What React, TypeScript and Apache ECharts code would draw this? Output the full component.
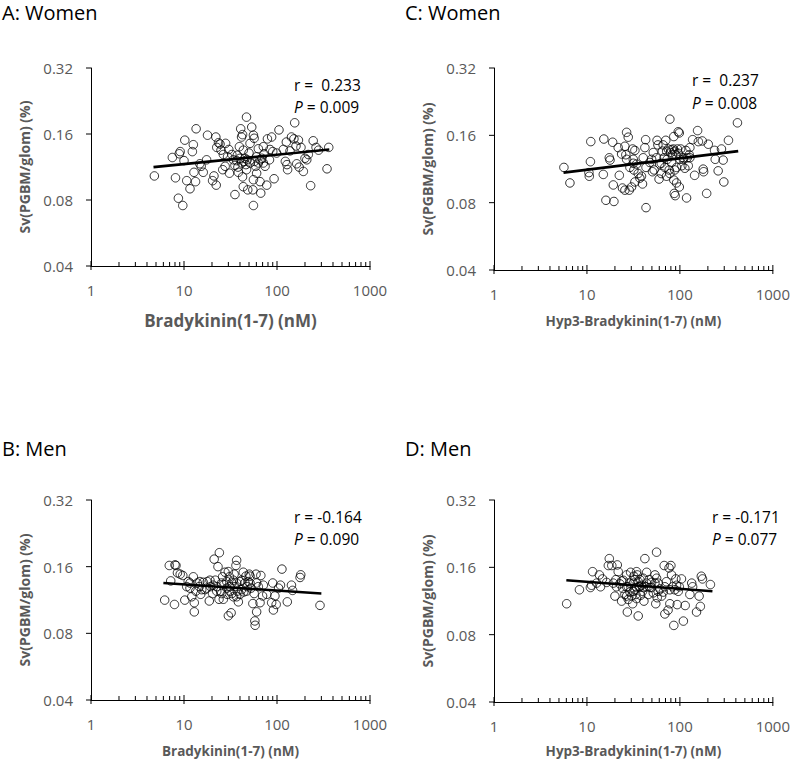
import React, { useEffect, useRef } from "react";
import * as echarts from "echarts";

// ---- Axis tick values ----
const X_MAJOR_TICKS = [1, 10, 100, 1000];
const X_MINOR_TICKS = [2, 3, 4, 5, 6, 7, 8, 9, 20, 30, 40, 50, 60, 70, 80, 90, 200, 300, 400, 500, 600, 700, 800, 900];
const Y_TICKS = [0.04, 0.08, 0.16, 0.32];
const Y_TICK_LABELS = ["0.04", "0.08", "0.16", "0.32"];
const X_MIN = 1;
const X_MAX = 1000;
const Y_MIN = 0.04;
const Y_MAX = 0.32;

// ---- Panel A: Women, Bradykinin(1-7) (nM) vs Sv(PGBM/glom) ----
const womenBk: number[][] = [
  [4.8, 0.103], [7.5, 0.125], [8.1, 0.101], [8.7, 0.0815], [9.7, 0.0755], [9.1, 0.133], [8.9, 0.13], [10, 0.121], [10.2, 0.15], [10.7, 0.098],
  [11.6, 0.09], [12.3, 0.133], [12.6, 0.143], [12.8, 0.107], [13.3, 0.097], [13.5, 0.169], [14.8, 0.117], [15.3, 0.114], [16.1, 0.107], [17.5, 0.122],
  [17.9, 0.158], [20.3, 0.098], [21, 0.103], [22, 0.155], [22.2, 0.0935], [22.5, 0.139], [23.5, 0.146], [24.4, 0.144], [25, 0.135], [26.1, 0.11],
  [27.7, 0.114], [28, 0.145], [29.4, 0.126], [30.8, 0.106], [30.3, 0.136], [35.3, 0.0847], [36.8, 0.121], [37.4, 0.128], [38, 0.113], [39.4, 0.14],
  [38.4, 0.107], [40.7, 0.169], [41.6, 0.155], [42.6, 0.159], [42.6, 0.102], [43.4, 0.092], [44, 0.12], [46.3, 0.116], [47, 0.191], [48.5, 0.089],
  [50, 0.131], [51.3, 0.145], [53.5, 0.172], [55, 0.089], [55.8, 0.0755], [55.8, 0.099], [55.8, 0.158], [56.8, 0.153], [57.3, 0.12], [59, 0.114],
  [60.4, 0.126], [63, 0.137], [65.7, 0.097], [66.9, 0.086], [68.7, 0.124], [71.3, 0.118], [72.5, 0.13], [74.4, 0.114], [77.6, 0.0935], [78.9, 0.152],
  [84, 0.136], [87.6, 0.155], [90, 0.133], [93, 0.1], [105, 0.167], [117, 0.136], [123, 0.12], [126, 0.147], [128, 0.116], [130, 0.11],
  [138, 0.134], [143, 0.155], [152, 0.152], [155, 0.18], [160, 0.141], [163, 0.117], [170, 0.15], [173, 0.113], [181, 0.139], [192, 0.108],
  [200, 0.124], [217, 0.129], [230, 0.093], [245, 0.149], [263, 0.139], [280, 0.135], [345, 0.111], [360, 0.139], [34, 0.122], [40, 0.124],
  [41.6, 0.118], [45.2, 0.124], [47.8, 0.122], [51.3, 0.118], [35.3, 0.115], [43.4, 0.135], [32.7, 0.129], [60.4, 0.106], [65.7, 0.122], [26.5, 0.129],
  [71.3, 0.14], [209, 0.122], [99, 0.131], [47, 0.11], [63, 0.118], [83, 0.122],
];
const womenBkFit: number[][] = [[4.7, 0.113], [365, 0.136]];

// ---- Panel B: Men, Bradykinin(1-7) (nM) ----
const menBk: number[][] = [
  [6.2, 0.113], [6.95, 0.162], [7.2, 0.138], [8, 0.163], [8.2, 0.162], [7.9, 0.108], [8.5, 0.15], [9.1, 0.148], [9.7, 0.146], [10.2, 0.113],
  [10.7, 0.13], [11.1, 0.137], [11.6, 0.128], [12.1, 0.117], [12.6, 0.144], [12.9, 0.11], [12.9, 0.1], [13.4, 0.124], [13.9, 0.135], [14.6, 0.13],
  [15.1, 0.12], [16.1, 0.136], [16.8, 0.126], [17.8, 0.137], [18.7, 0.112], [19.3, 0.13], [20.3, 0.121], [21.1, 0.173], [21.7, 0.139], [22.5, 0.13],
  [23.2, 0.16], [23.8, 0.114], [24, 0.185], [24.8, 0.124], [26, 0.144], [26.5, 0.114], [26.9, 0.133], [27.6, 0.151], [28.8, 0.128], [29.2, 0.12],
  [30, 0.096], [30.8, 0.144], [31.2, 0.124], [32.1, 0.099], [32.7, 0.135], [34, 0.117], [34.6, 0.148], [35.3, 0.13], [36.2, 0.162], [36.8, 0.171],
  [37.4, 0.124], [38.4, 0.111], [40, 0.137], [41.6, 0.126], [43.4, 0.151], [44, 0.123], [46.3, 0.145], [47.8, 0.13], [49, 0.137], [50.3, 0.148],
  [51.3, 0.145], [52.7, 0.128], [55, 0.109], [56.8, 0.121], [57.8, 0.091], [58.2, 0.087], [59.5, 0.148], [60.4, 0.1], [63, 0.13], [65.7, 0.11],
  [67, 0.146], [70, 0.118], [71.3, 0.132], [77.6, 0.12], [87.6, 0.11], [90, 0.135], [91.5, 0.102], [95, 0.118], [98, 0.108], [104, 0.128],
  [109, 0.132], [113, 0.156], [129, 0.111], [143, 0.132], [147, 0.125], [177, 0.143], [180, 0.147], [290, 0.107], [17.5, 0.128], [20.6, 0.132],
  [25.4, 0.135], [28.8, 0.137], [31.2, 0.13], [36.8, 0.135], [41.6, 0.139], [45.2, 0.135], [51.3, 0.135], [25.4, 0.121], [32.7, 0.121], [40, 0.12],
  [11.6, 0.135], [14.8, 0.137], [19, 0.139], [22.5, 0.124], [34, 0.139], [47, 0.124], [60.4, 0.135], [15.5, 0.126], [30, 0.152], [36.8, 0.117],
];
const menBkFit: number[][] = [[6, 0.135], [300, 0.121]];

// ---- Panel C: Women, Hyp3-Bradykinin(1-7) (nM) ----
const womenHyp: number[][] = [
  [5.65, 0.115], [6.56, 0.098], [10.6, 0.105], [10.9, 0.122], [11, 0.15], [10.5, 0.109], [15, 0.107], [15.2, 0.154], [16, 0.082], [17.4, 0.127],
  [17.7, 0.124], [18.9, 0.149], [19.2, 0.096], [19.5, 0.081], [21.7, 0.141], [22.3, 0.106], [23.6, 0.132], [24.1, 0.093], [25.6, 0.143], [25.6, 0.091],
  [26.2, 0.131], [26.7, 0.165], [27.8, 0.157], [28.5, 0.091], [29, 0.115], [30.2, 0.094], [31, 0.139], [31.5, 0.12], [32, 0.112], [32.8, 0.137],
  [32.8, 0.099], [34.2, 0.119], [35.6, 0.108], [37.1, 0.103], [38.6, 0.105], [39.6, 0.097], [42, 0.141], [42.8, 0.153], [43.2, 0.115], [43.2, 0.076],
  [47.5, 0.121], [50.7, 0.11], [51.7, 0.134], [52.8, 0.112], [55.9, 0.127], [56.8, 0.152], [58, 0.145], [59.7, 0.102], [60.6, 0.119], [63, 0.108],
  [64.7, 0.136], [67.6, 0.127], [68.8, 0.115], [70.5, 0.152], [71.8, 0.105], [73, 0.125], [75, 0.139], [76.7, 0.112], [78, 0.189], [79.5, 0.134],
  [81.3, 0.121], [83, 0.131], [85, 0.139], [86, 0.158], [86, 0.101], [87, 0.088], [88, 0.112], [89, 0.086], [90.5, 0.131], [92, 0.098],
  [94, 0.139], [96, 0.166], [98.5, 0.164], [98.5, 0.094], [100, 0.125], [102, 0.139], [105, 0.117], [109, 0.127], [113, 0.114], [116, 0.137],
  [118, 0.084], [120, 0.127], [123, 0.117], [126, 0.131], [128, 0.141], [137, 0.153], [144, 0.106], [155, 0.168], [158, 0.15], [174, 0.151],
  [178, 0.113], [180, 0.11], [194, 0.088], [202, 0.146], [236, 0.137], [240, 0.125], [258, 0.111], [280, 0.139], [292, 0.124], [297, 0.099],
  [333, 0.152], [416, 0.182], [72, 0.136], [81, 0.138], [88, 0.136], [96, 0.133], [109, 0.125], [128, 0.127], [63, 0.12], [49.6, 0.125],
  [31.5, 0.125], [66, 0.145], [92, 0.115], [78, 0.108], [40.3, 0.127], [26.7, 0.125],
];
const womenHypFit: number[][] = [[5.6, 0.109], [424, 0.136]];

// ---- Panel D: Men, Hyp3-Bradykinin(1-7) (nM) ----
const menHyp: number[][] = [
  [6.05, 0.11], [8.3, 0.127], [10.9, 0.13], [11.2, 0.133], [11.5, 0.153], [12.7, 0.136], [13.6, 0.148], [14, 0.131], [14.7, 0.142], [16.3, 0.137],
  [17.4, 0.175], [17, 0.163], [18.5, 0.163], [19.2, 0.136], [20, 0.119], [20.5, 0.141], [21.2, 0.164], [21.7, 0.153], [22.6, 0.135], [23.6, 0.113],
  [24.2, 0.129], [24.6, 0.14], [25.6, 0.121], [26.7, 0.148], [27.2, 0.101], [27.8, 0.131], [29, 0.124], [29.5, 0.152], [30.2, 0.119], [31, 0.11],
  [31.5, 0.136], [32, 0.146], [32.8, 0.127], [33.6, 0.121], [34.2, 0.116], [34.8, 0.148], [35.6, 0.097], [36.4, 0.131], [37.1, 0.141], [37.8, 0.12],
  [38.6, 0.133], [39.6, 0.125], [40.3, 0.143], [41, 0.113], [42, 0.175], [43.2, 0.131], [43.9, 0.152], [45.7, 0.121], [46.8, 0.141], [47.6, 0.13],
  [49.6, 0.137], [51.7, 0.123], [53.9, 0.148], [55, 0.11], [56.1, 0.187], [57, 0.117], [58.4, 0.136], [61, 0.128], [63.6, 0.119], [66.2, 0.124],
  [67.8, 0.163], [68.9, 0.099], [71.6, 0.138], [74.6, 0.103], [76.4, 0.159], [78, 0.11], [80, 0.163], [81.3, 0.148], [83.5, 0.131], [86, 0.088],
  [88.3, 0.127], [90.5, 0.142], [93.6, 0.109], [96, 0.125], [98.5, 0.131], [104, 0.142], [109, 0.092], [114, 0.108], [128, 0.121], [134, 0.136],
  [137, 0.131], [151, 0.101], [161, 0.119], [166, 0.107], [170, 0.146], [175, 0.142], [213, 0.134], [26.7, 0.131], [29, 0.136], [32.8, 0.141],
  [35.6, 0.138], [37.1, 0.131], [40.3, 0.13], [43.9, 0.136], [49.6, 0.13], [53.9, 0.136], [31.5, 0.125], [34.2, 0.13], [26.7, 0.119], [27.8, 0.115],
  [68.9, 0.131], [78, 0.127], [92, 0.133], [23.6, 0.139], [20.8, 0.131], [56.1, 0.143], [58.4, 0.125], [34.2, 0.153],
];
const menHypFit: number[][] = [[6, 0.14], [224, 0.125]];

// ---- Texts ----
const Y_NAME = "Sv(PGBM/glom) (%)";
const panelsInfo = [
  { title: "A: Women", xName: "Bradykinin(1-7) (nM)", r: "r =  0.233", p: "0.009", data: womenBk, fit: womenBkFit },
  { title: "C: Women", xName: "Hyp3-Bradykinin(1-7) (nM)", r: "r =  0.237", p: "0.008", data: womenHyp, fit: womenHypFit },
  { title: "B: Men", xName: "Bradykinin(1-7) (nM)", r: "r = -0.164", p: "0.090", data: menBk, fit: menBkFit },
  { title: "D: Men", xName: "Hyp3-Bradykinin(1-7) (nM)", r: "r = -0.171", p: "0.077", data: menHyp, fit: menHypFit },
];

// ---- Layout (pixels) ----
const layout = [
  { grid: { left: 91, top: 68, width: 279, height: 198 }, titleX: 2, titleY: 12, xNameSize: 17, xNameGap: 46, annX: 294, rY: 85, pY: 107 },
  { grid: { left: 494, top: 68, width: 279, height: 202 }, titleX: 405, titleY: 12, xNameSize: 13.5, xNameGap: 44, annX: 692, rY: 80, pY: 103 },
  { grid: { left: 91, top: 500, width: 279, height: 200 }, titleX: 2, titleY: 448, xNameSize: 13.5, xNameGap: 44, annX: 294, rY: 517, pY: 539 },
  { grid: { left: 494, top: 500, width: 279, height: 202 }, titleX: 405, titleY: 448, xNameSize: 13.5, xNameGap: 42, annX: 712, rY: 517, pY: 539 },
];

const FONT = "'Open Sans', 'Noto Sans', sans-serif";
const GRAY = "#595959";

function buildOption() {
  const grid: any[] = [];
  const xAxis: any[] = [];
  const yAxis: any[] = [];
  const series: any[] = [];
  const graphic: any[] = [];

  panelsInfo.forEach((pi, i) => {
    const L = layout[i];
    grid.push({ ...L.grid });
    xAxis.push({
      type: "log",
      logBase: 10,
      min: X_MIN,
      max: X_MAX,
      gridIndex: i,
      axisLine: { show: true, onZero: false, lineStyle: { color: "#000", width: 1 } },
      axisTick: { show: false },
      splitLine: { show: false },
      axisLabel: {
        color: GRAY,
        fontSize: 15,
        fontFamily: FONT,
        margin: 16,
        formatter: (v: number) => String(Math.round(v)),
      },
      name: pi.xName,
      nameLocation: "middle",
      nameGap: L.xNameGap,
      nameTextStyle: { color: GRAY, fontWeight: "bold", fontSize: L.xNameSize, fontFamily: FONT },
    });
    yAxis.push({
      type: "log",
      logBase: 2,
      min: Y_MIN,
      max: Y_MAX,
      gridIndex: i,
      axisLine: { show: true, onZero: false, lineStyle: { color: "#000", width: 1 } },
      axisTick: { show: false },
      axisLabel: { show: false },
      splitLine: { show: false },
      name: Y_NAME,
      nameLocation: "middle",
      nameRotate: 90,
      nameGap: 60,
      nameTextStyle: { color: GRAY, fontWeight: "bold", fontSize: 14, fontFamily: FONT },
    });

    // x minor ticks (inside)
    series.push({
      type: "custom",
      xAxisIndex: i,
      yAxisIndex: i,
      silent: true,
      data: X_MINOR_TICKS.map((v) => [v, Y_MIN]),
      renderItem: (_p: any, api: any) => {
        const pt = api.coord([api.value(0), api.value(1)]);
        return {
          type: "line",
          shape: { x1: pt[0], y1: pt[1], x2: pt[0], y2: pt[1] - 4 },
          style: { stroke: "#000", lineWidth: 1 },
        };
      },
    });
    // x major ticks (cross)
    series.push({
      type: "custom",
      xAxisIndex: i,
      yAxisIndex: i,
      silent: true,
      data: X_MAJOR_TICKS.map((v) => [v, Y_MIN]),
      renderItem: (_p: any, api: any) => {
        const pt = api.coord([api.value(0), api.value(1)]);
        return {
          type: "line",
          shape: { x1: pt[0], y1: pt[1] + 4, x2: pt[0], y2: pt[1] - 5 },
          style: { stroke: "#000", lineWidth: 1 },
        };
      },
    });
    // y ticks and labels
    series.push({
      type: "custom",
      xAxisIndex: i,
      yAxisIndex: i,
      silent: true,
      data: Y_TICKS.map((v, k) => [X_MIN, v, k]),
      renderItem: (_p: any, api: any) => {
        const pt = api.coord([api.value(0), api.value(1)]);
        const k = api.value(2);
        return {
          type: "group",
          children: [
            {
              type: "line",
              shape: { x1: pt[0] - 5, y1: pt[1], x2: pt[0], y2: pt[1] },
              style: { stroke: "#000", lineWidth: 1 },
            },
            {
              type: "text",
              x: pt[0] - 18,
              y: pt[1],
              style: {
                text: Y_TICK_LABELS[k],
                fill: GRAY,
                fontSize: 15,
                fontFamily: FONT,
                align: "right",
                verticalAlign: "middle",
              },
            },
          ],
        };
      },
    });
    // scatter
    series.push({
      type: "scatter",
      xAxisIndex: i,
      yAxisIndex: i,
      data: pi.data,
      symbol: "circle",
      symbolSize: 8.5,
      itemStyle: { color: "rgba(0,0,0,0)", borderColor: "#000", borderWidth: 1 },
      z: 3,
    });
    // regression line
    series.push({
      type: "line",
      xAxisIndex: i,
      yAxisIndex: i,
      data: pi.fit,
      showSymbol: false,
      symbol: "none",
      lineStyle: { color: "#000", width: 2.6 },
      z: 4,
    });

    graphic.push({
      type: "text",
      x: L.titleX,
      y: L.titleY,
      style: { text: pi.title, fill: "#000", fontSize: 20, fontFamily: FONT, verticalAlign: "middle", align: "left" },
    });
    graphic.push({
      type: "text",
      x: L.annX,
      y: L.rY,
      style: { text: pi.r, fill: "#000", fontSize: 15.5, fontFamily: FONT, verticalAlign: "middle", align: "left" },
    });
    graphic.push({
      type: "text",
      x: L.annX,
      y: L.pY,
      style: {
        text: "{i|P} = " + pi.p,
        fill: "#000",
        fontSize: 15.5,
        fontFamily: FONT,
        verticalAlign: "middle",
        align: "left",
        rich: { i: { fontStyle: "italic", fontSize: 15.5, fontFamily: FONT, fill: "#000" } },
      },
    });
  });

  return {
    animation: false,
    backgroundColor: "#fff",
    textStyle: { fontFamily: FONT },
    grid,
    xAxis,
    yAxis,
    series,
    graphic,
  };
}

export default function App() {
  const ref = useRef<HTMLDivElement>(null);
  useEffect(() => {
    if (!ref.current) return;
    const chart = echarts.init(ref.current, undefined, { renderer: "svg" });
    chart.setOption(buildOption() as any);
    return () => chart.dispose();
  }, []);
  return (
    <div
      ref={ref}
      style={{ position: "absolute", left: 0, top: 0, width: 793, height: 764, background: "#fff" }}
    />
  );
}
